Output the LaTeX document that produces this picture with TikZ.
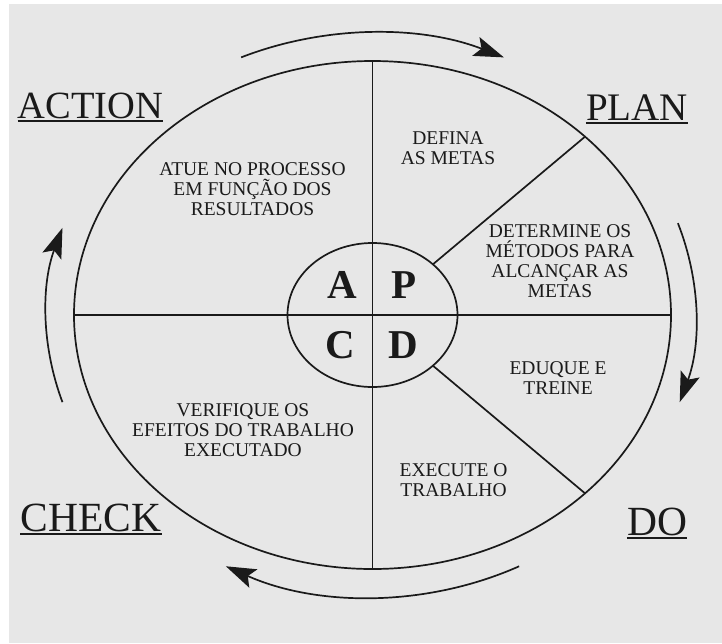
\documentclass[tikz,border=0pt]{standalone}
\usepackage{fontspec}
\setmainfont{Liberation Serif}
\usetikzlibrary{arrows.meta,shapes.geometric,calc}
\definecolor{paper}{RGB}{231,231,231}
\definecolor{ink}{RGB}{26,26,26}
\tikzset{
  ln/.style={draw=ink, line width=1.7pt},
  ring/.style={ellipse, draw=ink, line width=1.7pt, inner sep=0pt, outer sep=0pt},
  cyc/.style={draw=ink, line width=1.7pt, -{Stealth[length=30pt,width=20pt,inset=6pt]}},
  txt/.style={text=ink, font=\fontsize{19.5}{20}\selectfont, align=center, inner sep=0pt, anchor=north},
  biglabel/.style={text=ink, inner sep=0pt, anchor=base},
  uline/.style={draw=ink, line width=2pt},
  letter/.style={text=ink, inner sep=0pt, anchor=base, font=\fontsize{41}{41}\selectfont\bfseries},
}
\begin{document}
\begin{tikzpicture}[x=1pt,y=-1pt]
\useasboundingbox (0,0) rectangle (722,643);
\fill[white] (0,0) rectangle (722,643);
\fill[paper] (9,4) rectangle (722,643);
\coordinate (c) at (372.5,315);
% outer and inner rings
\node[ring, minimum width=597pt, minimum height=508pt] (O) at (c) {};
\node[ring, minimum width=170pt, minimum height=144pt] (I) at (c) {};
% dividing lines
\draw[ln] (O.north) -- (O.south);
\draw[ln] (O.west) -- (O.east);
\draw[ln] (I.40.4) -- (O.40.4);
\draw[ln] (I.-40.4) -- (O.-40.4);
% cycle arrows
\draw[cyc] ($(c)+(114:323pt and 282pt)$) arc[start angle=114, end angle=66, x radius=323pt, y radius=282pt];
\draw[cyc] ($(c)+(19:323pt and 282pt)$) arc[start angle=19, end angle=-18, x radius=323pt, y radius=282pt];
\draw[cyc] ($(c)+(-63:323pt and 282pt)$) arc[start angle=-63, end angle=-117, x radius=323pt, y radius=282pt];
\draw[cyc] ($(c)+(198:326pt and 282pt)$) arc[start angle=198, end angle=162, x radius=326pt, y radius=282pt];
% corner labels
\node[biglabel, font=\fontsize{38.5}{40}\selectfont] (action) at (90.5,118.3) {ACTION};
\node[biglabel, font=\fontsize{39}{40}\selectfont] (plan) at (637,120) {PLAN};
\node[biglabel, font=\fontsize{41.5}{42}\selectfont] (check) at (91,531.5) {CHECK};
\node[biglabel, font=\fontsize{41.5}{42}\selectfont] (do) at (657,535) {DO};
\draw[uline] ([yshift=-3pt]action.base west) -- ([yshift=-3pt]action.base east);
\draw[uline] ([yshift=-3pt]plan.base west) -- ([yshift=-3pt]plan.base east);
\draw[uline] ([yshift=-2.5pt]check.base west) -- ([yshift=-2.5pt]check.base east);
\draw[uline] ([yshift=-3pt]do.base west) -- ([yshift=-3pt]do.base east);
% centre letters
\node[letter] (la) at (342,298) {A};
\node[letter] (lp) at (404,298) {P};
\node[letter] (lc) at (340.5,358) {C};
\node[letter] (ld) at (403,358) {D};
% sector texts
\node[txt] (t1) at (448,131.5) {DEFINA\\AS METAS};
\node[txt] (t2) at (252.5,162.8) {ATUE NO PROCESSO\\EM FUNÇÃO DOS\\RESULTADOS};
\node[txt] (t3) at (560,224.2) {DETERMINE OS\\MÉTODOS PARA\\ALCANÇAR AS\\METAS};
\node[txt] (t4) at (558,361.1) {EDUQUE E\\TREINE};
\node[txt] (t5) at (243,403.3) {VERIFIQUE OS\\EFEITOS DO TRABALHO\\EXECUTADO};
\node[txt] (t6) at (453.5,463.5) {EXECUTE O\\TRABALHO};
\end{tikzpicture}
\end{document}
